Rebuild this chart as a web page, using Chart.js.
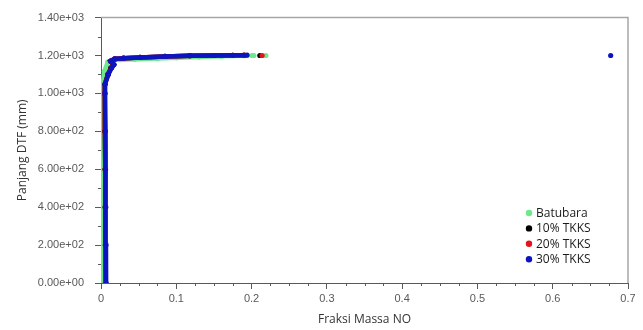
<!DOCTYPE html>
<html>
<head>
<meta charset="utf-8">
<script src="https://cdn.jsdelivr.net/npm/chart.js@4.4.1/dist/chart.umd.min.js"></script>
<style>
    body { margin: 0; background: #fff; }
    #wrap { width: 643px; height: 330px; }
</style>
</head>
<body>
<div id="wrap"><canvas id="dtfChart" width="643" height="330"></canvas></div>
<script>
// Data (x = fraksi massa NO, y = panjang DTF in mm)
const seriesNames = ['Batubara', '10% TKKS', '20% TKKS', '30% TKKS'];
const seriesColors = ['#6ee88c', '#000000', '#e3141c', '#0c14c0'];

const batubaraX = [0.002, 0.002, 0.002, 0.002, 0.002, 0.0022, 0.0025, 0.0045, 0.009, 0.014, 0.025, 0.045, 0.075, 0.10, 0.13, 0.16, 0.19, 0.2006, 0.203, 0.219];
const batubaraY = [0, 200, 400, 600, 800, 1000, 1050, 1117, 1165, 1176, 1178, 1180, 1184, 1188, 1192, 1196, 1199, 1200, 1200, 1200];

const tkks10X = [0.006, 0.0058, 0.0056, 0.0054, 0.0051, 0.0049, 0.0052, 0.009, 0.013, 0.016, 0.013, 0.018, 0.03, 0.052, 0.085, 0.118, 0.15, 0.175, 0.19, 0.211];
const tkks10Y = [0, 200, 400, 600, 800, 1000, 1048, 1100, 1135, 1152, 1170, 1182, 1186, 1190, 1195, 1199, 1200, 1201, 1202, 1200];

const tkks20X = [0.0062, 0.006, 0.0058, 0.0056, 0.0053, 0.005, 0.0053, 0.0095, 0.0138, 0.0168, 0.0128, 0.0184, 0.03, 0.052, 0.085, 0.118, 0.15, 0.175, 0.19, 0.214];
const tkks20Y = [0, 200, 400, 600, 800, 1000, 1048, 1100, 1135, 1152, 1170, 1182, 1186, 1190, 1195, 1199, 1200, 1201, 1202, 1200];

const tkks30X = [0.0068, 0.0066, 0.0063, 0.006, 0.0056, 0.0053, 0.0053, 0.0097, 0.0142, 0.0173, 0.0129, 0.0186, 0.03, 0.052, 0.085, 0.118, 0.15, 0.175, 0.194, 0.677];
const tkks30Y = [0, 200, 400, 600, 800, 1000, 1048, 1100, 1135, 1152, 1170, 1182, 1186, 1190, 1195, 1199, 1200, 1201, 1202, 1200];

const seriesX = [batubaraX, tkks10X, tkks20X, tkks30X];
const seriesY = [batubaraY, tkks10Y, tkks20Y, tkks30Y];

const xTicks = [0, 0.1, 0.2, 0.3, 0.4, 0.5, 0.6, 0.7];
const yTicks = [0, 200, 400, 600, 800, 1000, 1200, 1400];

const axisColor = '#595959';

// Minor ticks, top/right frame and legend inside the plot
const extrasPlugin = {
    id: 'extras',
    afterDraw(chart) {
        const ctx = chart.ctx;
        const area = chart.chartArea;
        const xs = chart.scales.x;
        const ys = chart.scales.y;
        ctx.save();

        // frame on top and right
        ctx.strokeStyle = '#a6a6a6';
        ctx.lineWidth = 1.5;
        ctx.beginPath();
        ctx.moveTo(area.left, area.top);
        ctx.lineTo(area.right, area.top);
        ctx.lineTo(area.right, area.bottom);
        ctx.stroke();

        // minor ticks
        ctx.strokeStyle = axisColor;
        ctx.lineWidth = 1;
        ctx.beginPath();
        for (let i = 0; i < xTicks.length - 1; i++) {
            for (let k = 1; k < 4; k++) {
                const v = xTicks[i] + (xTicks[i + 1] - xTicks[i]) * k / 4;
                const px = Math.round(xs.getPixelForValue(v)) + 0.5;
                ctx.moveTo(px, area.bottom);
                ctx.lineTo(px, area.bottom + 3);
            }
        }
        for (let i = 0; i < yTicks.length - 1; i++) {
            const v = (yTicks[i] + yTicks[i + 1]) / 2;
            const py = Math.round(ys.getPixelForValue(v)) + 0.5;
            ctx.moveTo(area.left, py);
            ctx.lineTo(area.left - 3, py);
        }
        ctx.stroke();

        // legend
        const lx = area.right - 99;
        let ly = area.bottom - 70;
        ctx.font = '12px "Open Sans"';
        ctx.textBaseline = 'middle';
        ctx.textAlign = 'left';
        chart.data.datasets.forEach((ds, i) => {
            ctx.fillStyle = ds.backgroundColor;
            ctx.beginPath();
            ctx.arc(lx, ly, 3.2, 0, Math.PI * 2);
            ctx.fill();
            ctx.fillStyle = '#1a1a1a';
            ctx.fillText(ds.label, lx + 7, ly + 0.5);
            ly += 15.4;
        });
        ctx.restore();
    }
};

document.addEventListener('DOMContentLoaded', function () {
    const datasets = seriesNames.map((name, i) => ({
        label: name,
        data: seriesX[i].map((x, j) => ({ x: x, y: seriesY[i][j] })),
        borderColor: seriesColors[i],
        backgroundColor: seriesColors[i],
        showLine: true,
        borderWidth: 4.5,
        pointRadius: 2.6,
        pointBorderWidth: 0,
        order: seriesNames.length - i,
        segment: {
            // past x = 0.2 the figure only has loose dots, no continuous trace
            borderColor: c => (c.p1.parsed.x > 0.2 ? 'transparent' : seriesColors[i])
        }
    }));

    const ctx = document.getElementById('dtfChart').getContext('2d');
    new Chart(ctx, {
        type: 'scatter',
        data: { datasets: datasets },
        plugins: [extrasPlugin],
        options: {
            responsive: false,
            animation: false,
            layout: { padding: { top: 14, right: 15, left: 0, bottom: 0 } },
            plugins: {
                legend: { display: false },
                tooltip: { enabled: false }
            },
            scales: {
                x: {
                    type: 'linear',
                    min: 0,
                    max: 0.7,
                    afterFit: s => { s.height = 47; },
                    afterBuildTicks: s => { s.ticks = xTicks.map(v => ({ value: v })); },
                    grid: { drawOnChartArea: false, drawTicks: true, tickLength: 6, color: axisColor },
                    border: { color: axisColor, width: 1 },
                    ticks: {
                        padding: 3,
                        color: axisColor,
                        font: { family: '"Liberation Sans", Arial', size: 11 },
                        callback: v => String(Math.round(v * 10) / 10)
                    },
                    title: {
                        display: true,
                        text: 'Fraksi Massa NO',
                        color: '#333333',
                        font: { family: '"Open Sans"', size: 12 },
                        padding: { top: 0, bottom: 3 }
                    }
                },
                y: {
                    type: 'linear',
                    min: 0,
                    max: 1400,
                    afterFit: s => { s.width = 101; },
                    afterBuildTicks: s => { s.ticks = yTicks.map(v => ({ value: v })); },
                    grid: { drawOnChartArea: false, drawTicks: true, tickLength: 6, color: axisColor },
                    border: { color: axisColor, width: 1 },
                    ticks: {
                        padding: 11,
                        color: axisColor,
                        font: { family: '"Liberation Sans", Arial', size: 11 },
                        callback: v => v.toExponential(2).replace(/e([+-])(\d)$/, 'e$10$2')
                    },
                    title: {
                        display: true,
                        text: 'Panjang DTF (mm)',
                        color: '#333333',
                        font: { family: '"Open Sans"', size: 12 },
                        padding: { top: 15, bottom: 0 }
                    }
                }
            }
        }
    });
});
</script>
</body>
</html>
